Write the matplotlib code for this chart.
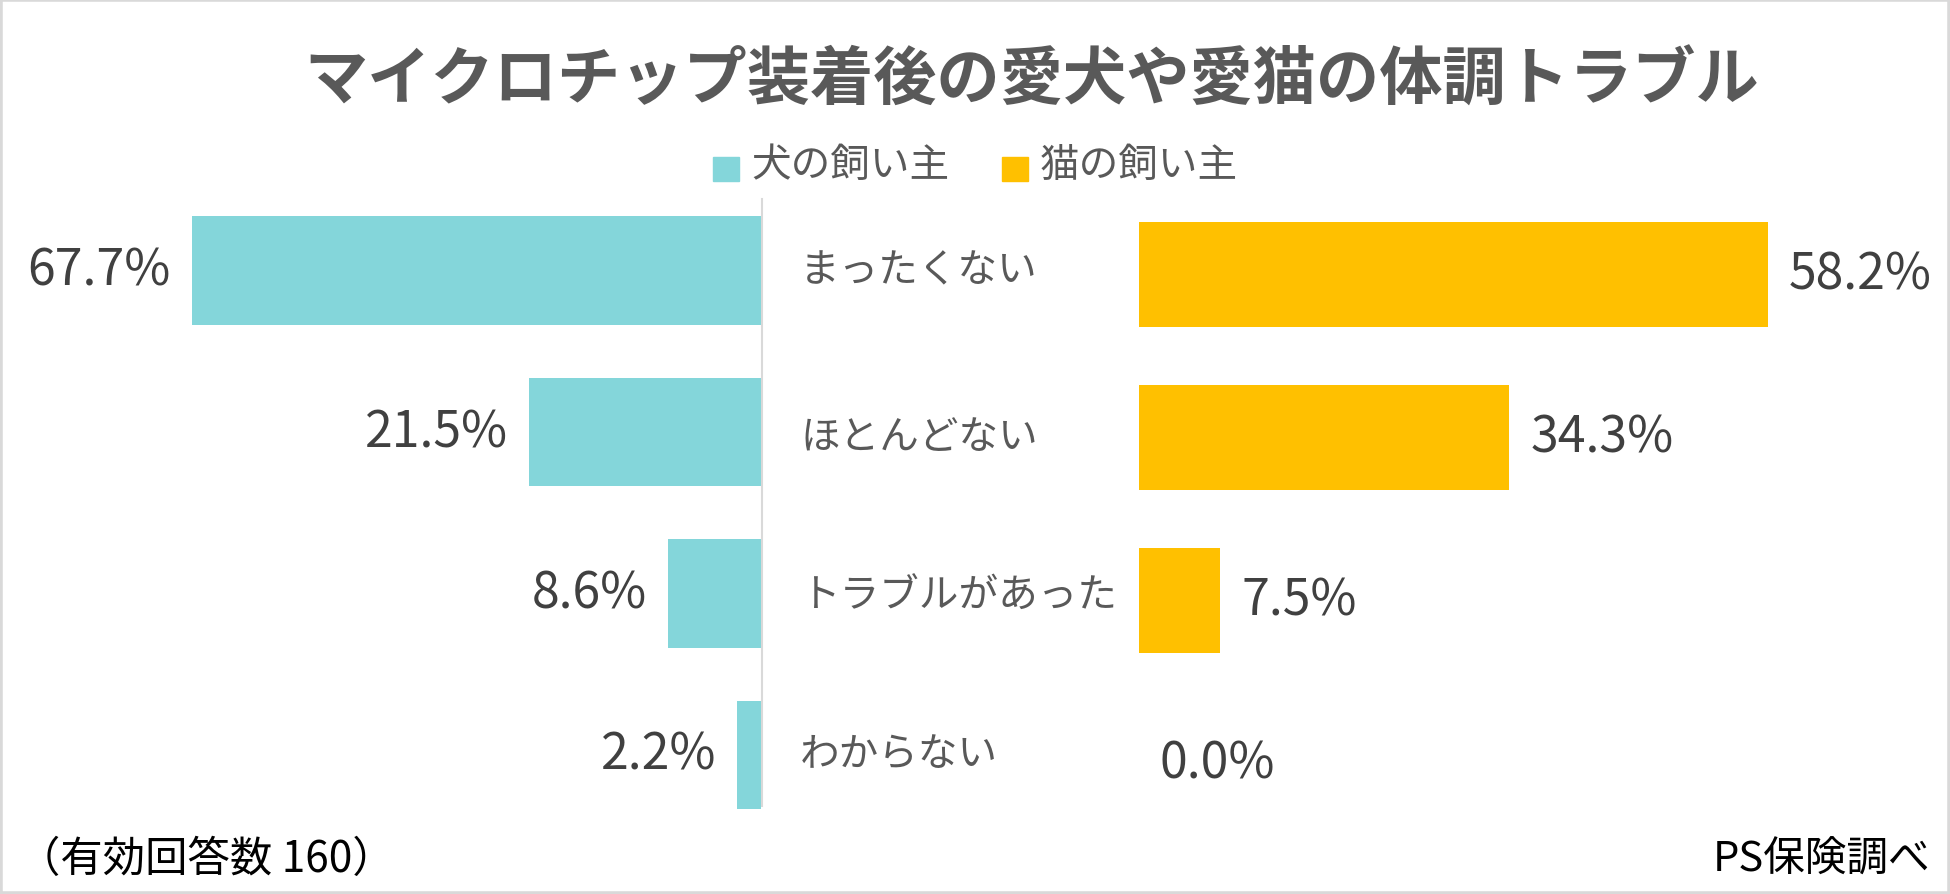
import matplotlib
matplotlib.use("Agg")
import matplotlib.pyplot as plt
from matplotlib.lines import Line2D
from matplotlib.patches import Rectangle

plt.rcParams['font.family'] = ['Noto Sans CJK JP', 'DejaVu Sans']

title = "マイクロチップ装着後の愛犬や愛猫の体調トラブル"
categories = ["まったくない", "ほとんどない", "トラブルがあった", "わからない"]
series_names = ["犬の飼い主", "猫の飼い主"]
dog_values = [67.7, 21.5, 8.6, 2.2]
cat_values = [58.2, 34.3, 7.5, 0.0]
note_left = "（有効回答数 160）"
note_right = "PS保険調べ"

DOG = "#84D6DA"
CAT = "#FFC000"
NUM = "#404040"
CAT_TXT = "#595959"

W, H = 1950, 895
fig = plt.figure(figsize=(W / 100, H / 100), dpi=100)
fig.patch.set_facecolor("white")

def fx(px):
    return px / W

def fy(py):
    return 1 - py / H

ppu = 10.8  # pixels per percent
ys = list(range(len(categories)))

# left axes (dog), inverted; the axis maximum clips the longest bar as in the original
l_left, l_right = 191.5, 761
sp_l = 161.5
l_top = 271.5 - sp_l / 2
axL = fig.add_axes([fx(l_left), fy(l_top + 4 * sp_l), fx(l_right - l_left), 4 * sp_l / H])
axL.set_xlim((l_right - l_left) / ppu, 0)
axL.set_ylim(3.5, -0.5)
axL.barh(ys, dog_values, height=0.67, color=DOG)
axL.axis("off")
xmaxL = axL.get_xlim()[0]
for y, v in zip(ys, dog_values):
    axL.annotate(f"{v:.1f}%", xy=(min(v, xmaxL), y), xytext=(-21, 0), textcoords="offset pixels",
                 ha="right", va="center", fontsize=36, color=NUM, annotation_clip=False)

# right axes (cat)
r_left = 1139
r_w = 700
sp_r = 163
r_top = 275.5 - sp_r / 2
axR = fig.add_axes([fx(r_left), fy(r_top + 4 * sp_r), fx(r_w), 4 * sp_r / H])
axR.set_xlim(0, r_w / ppu)
axR.set_ylim(3.5, -0.5)
axR.barh(ys, cat_values, height=0.65, color=CAT)
axR.axis("off")
for y, v in zip(ys, cat_values):
    axR.annotate(f"{v:.1f}%", xy=(v, y), xytext=(21, 0), textcoords="offset pixels",
                 ha="left", va="center", fontsize=36, color=NUM, annotation_clip=False)

# category labels
cat_y = [271, 438, 597, 756]
for lab, py in zip(categories, cat_y):
    fig.text(fx(800), fy(py), lab, ha="left", va="center", fontsize=28.5, color=CAT_TXT)

# center axis line
fig.add_artist(Line2D([fx(762), fx(762)], [fy(200), fy(807)], color="#d9d9d9", lw=1.5))

# title
fig.text(fx(1032), fy(81), title, ha="center", va="center", fontsize=45.5,
         fontweight="bold", color="#595959")

# legend
fig.add_artist(Rectangle((fx(713), fy(182)), fx(26), 24 / H, color=DOG, transform=fig.transFigure))
fig.text(fx(751), fy(166), series_names[0], ha="left", va="center", fontsize=28.5, color=CAT_TXT)
fig.add_artist(Rectangle((fx(1002), fy(182)), fx(26), 24 / H, color=CAT, transform=fig.transFigure))
fig.text(fx(1040), fy(166), series_names[1], ha="left", va="center", fontsize=28.5, color=CAT_TXT)

# footer
fig.text(fx(18), fy(860), note_left, ha="left", va="center", fontsize=30.5, color="black")
fig.text(fx(1930), fy(860), note_right, ha="right", va="center", fontsize=30, color="black")

# border
fig.add_artist(Rectangle((0, 0), 1, 1, transform=fig.transFigure, fill=False,
                         edgecolor="#d9d9d9", lw=4))

fig.savefig("out.png", dpi=100, facecolor="white")
